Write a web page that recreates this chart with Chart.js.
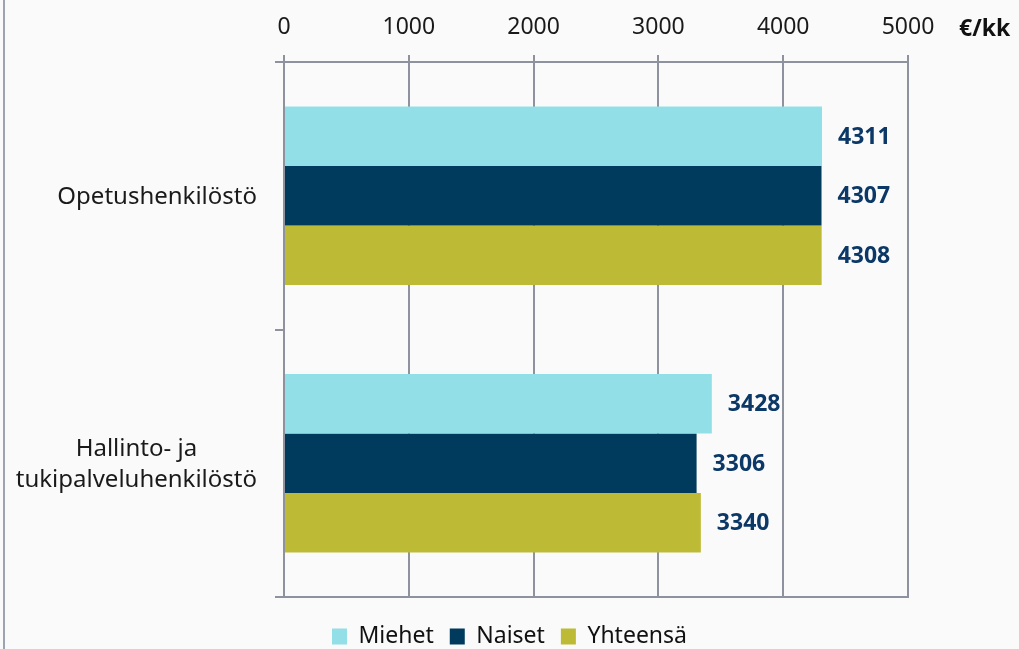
<!DOCTYPE html>
<html>
<head>
<meta charset="utf-8">
<script src="https://cdn.jsdelivr.net/npm/chart.js@4/dist/chart.umd.min.js"></script>
<style>
html,body{margin:0;padding:0;background:#fafafa;}
#wrap{position:relative;width:1019px;height:649px;overflow:hidden;}
#edge{position:absolute;left:3px;top:0;width:2px;height:649px;background:#9ea3b0;}
#chart{position:absolute;left:0;top:0;}
</style>
</head>
<body>
<div id="wrap"><div id="edge"></div><canvas id="chart" width="1019" height="649"></canvas></div>
<script>
// Data
const categories = [["Opetushenkilöstö"], ["Hallinto- ja", "tukipalveluhenkilöstö"]];
const seriesNames = ["Miehet", "Naiset", "Yhteensä"];
const miehet = [4311, 3428];
const naiset = [4307, 3306];
const yhteensa = [4308, 3340];
const xTicks = [0, 1000, 2000, 3000, 4000, 5000];
const unitLabel = "€/kk";

const FONT = "'Noto Sans', sans-serif";
const GRAY = "#8e919e";

// draws category labels, value labels and the unit label
const textPlugin = {
  id: "texts",
  afterDraw(chart) {
    const ctx = chart.ctx;
    const area = chart.chartArea;
    const yScale = chart.scales.y;
    ctx.save();

    // category labels: right aligned block, lines centered inside
    ctx.font = "24px " + FONT;
    ctx.fillStyle = "#1a1a1a";
    ctx.textAlign = "center";
    ctx.textBaseline = "middle";
    const lineH = 31;
    categories.forEach((lines, i) => {
      const w = Math.max(...lines.map(l => ctx.measureText(l).width));
      const cx = area.left - 27 - w / 2;
      const cy = yScale.getPixelForValue(i) + 1;
      lines.forEach((l, j) => {
        ctx.fillText(l, cx, cy + (j - (lines.length - 1) / 2) * lineH);
      });
    });

    // value labels
    ctx.font = "bold 23px " + FONT;
    ctx.fillStyle = "#0c3867";
    ctx.textAlign = "left";
    chart.data.datasets.forEach((ds, di) => {
      const meta = chart.getDatasetMeta(di);
      meta.data.forEach((bar, i) => {
        const p = bar.getProps(["x", "y"], true);
        ctx.fillText(String(ds.data[i]), p.x + 16, p.y + 1);
      });
    });

    // unit label
    ctx.fillStyle = "#111";
    ctx.fillText(unitLabel, 959, 29);
    ctx.restore();
  }
};

new Chart(document.getElementById("chart"), {
  type: "bar",
  data: {
    labels: categories,
    datasets: [
      { label: seriesNames[0], data: miehet, backgroundColor: "#92dfe8", xAxisID: "x" },
      { label: seriesNames[1], data: naiset, backgroundColor: "#003a5c", xAxisID: "x" },
      { label: seriesNames[2], data: yhteensa, backgroundColor: "#bdbb35", xAxisID: "x" }
    ]
  },
  options: {
    indexAxis: "y",
    responsive: false,
    animation: false,
    categoryPercentage: 0.667,
    barPercentage: 1,
    layout: { padding: { top: 0, right: 0, bottom: -9, left: 0 } },
    plugins: {
      tooltip: { enabled: false },
      legend: {
        position: "bottom",
        // empty title only pushes the legend row down
        title: { display: true, text: "", padding: 0, font: { size: 10 } },
        labels: {
          boxWidth: 15, boxHeight: 16, padding: 16,
          color: "#111",
          font: { family: FONT, size: 23 }
        }
      }
    },
    scales: {
      x: {
        position: "top",
        min: 0, max: 5000,
        afterBuildTicks: s => { s.ticks = xTicks.map(v => ({ value: v })); },
        ticks: { color: "#1a1a1a", padding: 14, maxRotation: 0, font: { family: FONT, size: 23 }, callback: v => String(v) },
        grid: { color: GRAY, lineWidth: 2, tickLength: 7 },
        border: { color: GRAY, width: 2 },
        afterFit: s => { s.height = 62; }
      },
      x2: {
        axis: "x",
        position: "bottom",
        min: 0, max: 5000,
        ticks: { display: false },
        grid: { display: false, drawTicks: false },
        border: { display: true, color: GRAY, width: 2 },
        afterFit: s => { s.height = 0; }
      },
      y: {
        ticks: { display: false },
        grid: { drawOnChartArea: false, color: GRAY, lineWidth: 2, tickLength: 9, offset: true },
        border: { color: GRAY, width: 2 },
        afterFit: s => { s.width = 284; }
      },
      // empty right axis that keeps room for the value labels
      yRight: {
        axis: "y",
        position: "right",
        ticks: { display: false },
        grid: { display: false, drawTicks: false },
        border: { display: false },
        afterFit: s => { s.width = 111; }
      }
    }
  },
  plugins: [textPlugin]
});
</script>
</body>
</html>
